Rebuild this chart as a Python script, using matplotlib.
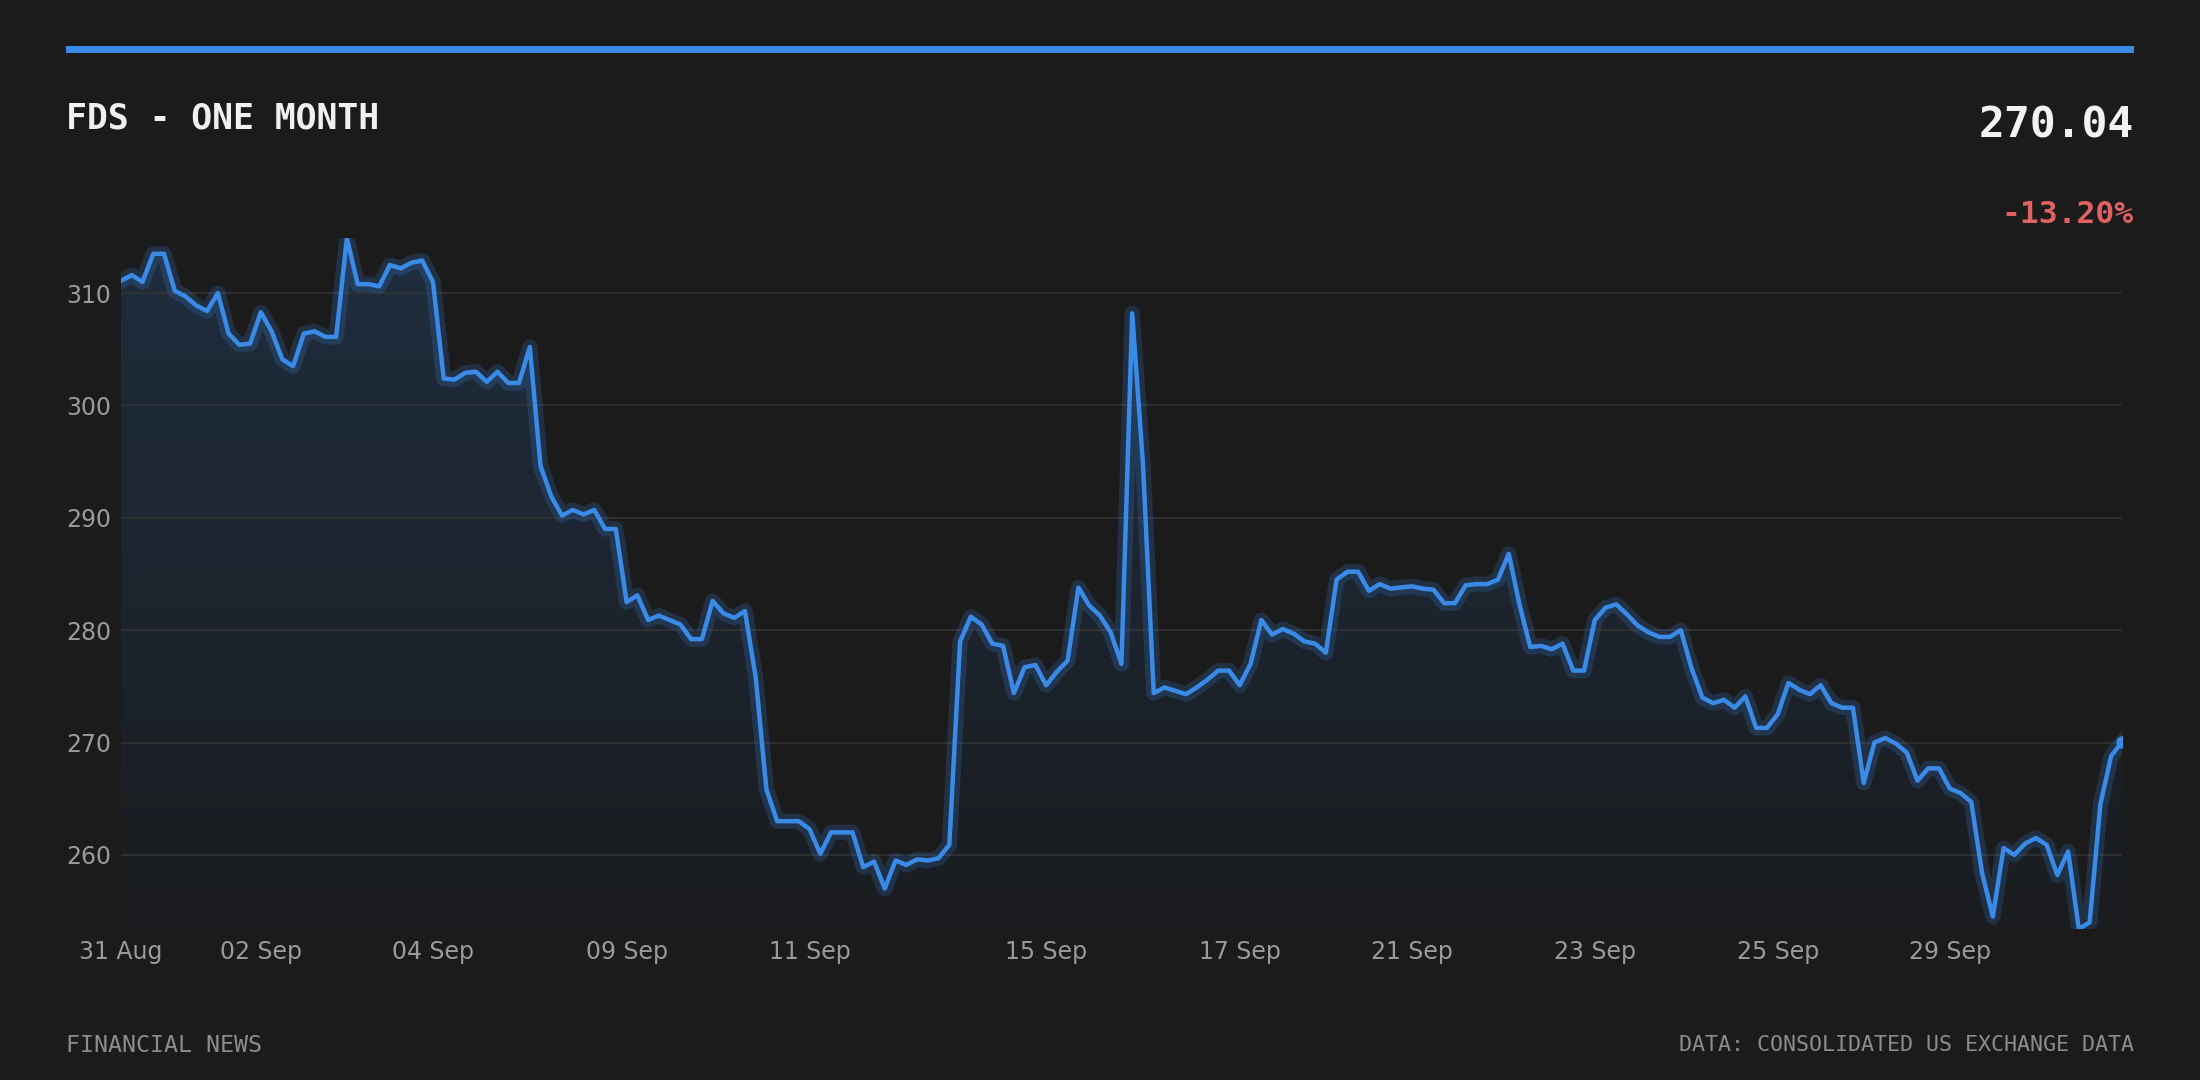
import numpy as np
import matplotlib
matplotlib.use('Agg')
import matplotlib.pyplot as plt
from matplotlib.colors import LinearSegmentedColormap
from matplotlib.patches import Rectangle

# FDS price, one month of intraday points
prices = [
    311.1, 311.6, 311.0, 313.5, 313.5, 310.2, 309.7, 308.9, 308.4, 310.0,
    306.4, 305.4, 305.5, 308.3, 306.6, 304.1, 303.5, 306.4, 306.6, 306.1,
    306.1, 314.9, 310.8, 310.8, 310.6, 312.5, 312.2, 312.7, 312.9, 311.0,
    302.4, 302.3, 302.9, 303.0, 302.1, 303.0, 302.0, 302.0, 305.2, 294.6,
    291.9, 290.2, 290.7, 290.3, 290.7, 289.0, 289.0, 282.5, 283.1, 280.9,
    281.3, 280.9, 280.5, 279.2, 279.2, 282.6, 281.5, 281.1, 281.7, 275.8,
    265.8, 263.0, 263.0, 263.0, 262.3, 260.1, 262.0, 262.0, 262.0, 258.9,
    259.4, 257.0, 259.5, 259.1, 259.6, 259.5, 259.7, 260.9, 279.0, 281.2,
    280.5, 278.8, 278.6, 274.4, 276.7, 276.9, 275.1, 276.3, 277.3, 283.8,
    282.2, 281.3, 279.8, 277.0, 308.2, 294.8, 274.4, 274.9, 274.6, 274.3,
    274.9, 275.6, 276.4, 276.4, 275.1, 277.0, 280.9, 279.6, 280.1, 279.7,
    279.0, 278.8, 278.0, 284.5, 285.2, 285.2, 283.5, 284.1, 283.7, 283.8,
    283.9, 283.7, 283.6, 282.4, 282.4, 284.0, 284.1, 284.1, 284.5, 286.8,
    282.3, 278.5, 278.6, 278.3, 278.8, 276.4, 276.4, 280.9, 282.0, 282.3,
    281.4, 280.4, 279.8, 279.4, 279.4, 280.0, 276.6, 274.0, 273.5, 273.8,
    273.1, 274.1, 271.3, 271.3, 272.5, 275.3, 274.7, 274.3, 275.1, 273.5,
    273.1, 273.1, 266.4, 270.0, 270.4, 269.9, 269.1, 266.6, 267.7, 267.7,
    265.9, 265.5, 264.7, 258.4, 254.5, 260.6, 260.0, 261.0, 261.5, 260.9,
    258.2, 260.3, 253.4, 254.0, 264.5, 268.8, 270.04,
]

tick_idx = [0, 13, 29, 47, 64, 86, 104, 120, 137, 154, 170]
tick_labels = ['31 Aug', '02 Sep', '04 Sep', '09 Sep', '11 Sep', '15 Sep',
               '17 Sep', '21 Sep', '23 Sep', '25 Sep', '29 Sep']
y_ticks = [260, 270, 280, 290, 300, 310]

BG = '#1b1b1b'
BLUE = '#3a8ae8'
GRAY = '#9a9a9a'
MONO = 'DejaVu Sans Mono'

fig = plt.figure(figsize=(11, 5.4), dpi=200, facecolor=BG)
ax = fig.add_axes([0.055, 0.1398, 0.9095, 0.6398])
ax.set_facecolor(BG)

x = np.arange(len(prices))
ymin, ymax = min(prices), max(prices)

# gradient area under the line
grad = np.linspace(0, 1, 256).reshape(-1, 1)
cmap = LinearSegmentedColormap.from_list('area', ['#1a1c1f', '#1f2d3e'])
im = ax.imshow(grad, extent=[x[0], x[-1], ymin, ymax], origin='lower',
               aspect='auto', cmap=cmap, zorder=1)
area = ax.fill_between(x, prices, ymin, color='none', lw=0)
im.set_clip_path(area.get_paths()[0], transform=ax.transData)

# glow + line + last point
ax.plot(x, prices, color=BLUE, lw=5.5, alpha=0.2, solid_joinstyle='round', zorder=3)
ax.plot(x, prices, color=BLUE, lw=1.6, solid_joinstyle='round', zorder=4)
ax.plot(x[-1], prices[-1], 'o', ms=3.5, color=BLUE, zorder=5)

ax.set_xlim(x[0], x[-1])
ax.set_ylim(ymin, ymax)
ax.set_yticks(y_ticks)
ax.set_xticks(tick_idx)
ax.set_xticklabels(tick_labels)
ax.set_axisbelow(False)
ax.grid(axis='y', color='#333333', lw=0.6)
ax.tick_params(length=0, colors=GRAY, labelsize=8.5)
ax.tick_params(axis='y', pad=3.4)
ax.tick_params(axis='x', pad=4)
for s in ax.spines.values():
    s.set_visible(False)

# header
fig.add_artist(Rectangle((0.03, 0.9509), 0.94, 0.0065, transform=fig.transFigure,
                         color=BLUE, lw=0))
fig.text(0.03, 0.890, 'FDS - ONE MONTH', family=MONO, weight='bold', size=12.5,
         color='#f0f0f0', va='center')
change = (prices[-1] / prices[0] - 1) * 100
fig.text(0.97, 0.884, f'{prices[-1]:.2f}', family=MONO, weight='bold', size=15.5,
         color='#f2f2f2', ha='right', va='center')
fig.text(0.97, 0.801, f'{change:.2f}%', family=MONO, weight='bold', size=11.3,
         color='#e06262', ha='right', va='center')

# footer
fig.text(0.03, 0.032, 'FINANCIAL NEWS', family=MONO, size=8.4, color='#8c8c8c', va='center')
fig.text(0.97, 0.032, 'DATA: CONSOLIDATED US EXCHANGE DATA', family=MONO, size=7.8,
         color='#8c8c8c', ha='right', va='center')

fig.savefig('out.png', facecolor=BG)
